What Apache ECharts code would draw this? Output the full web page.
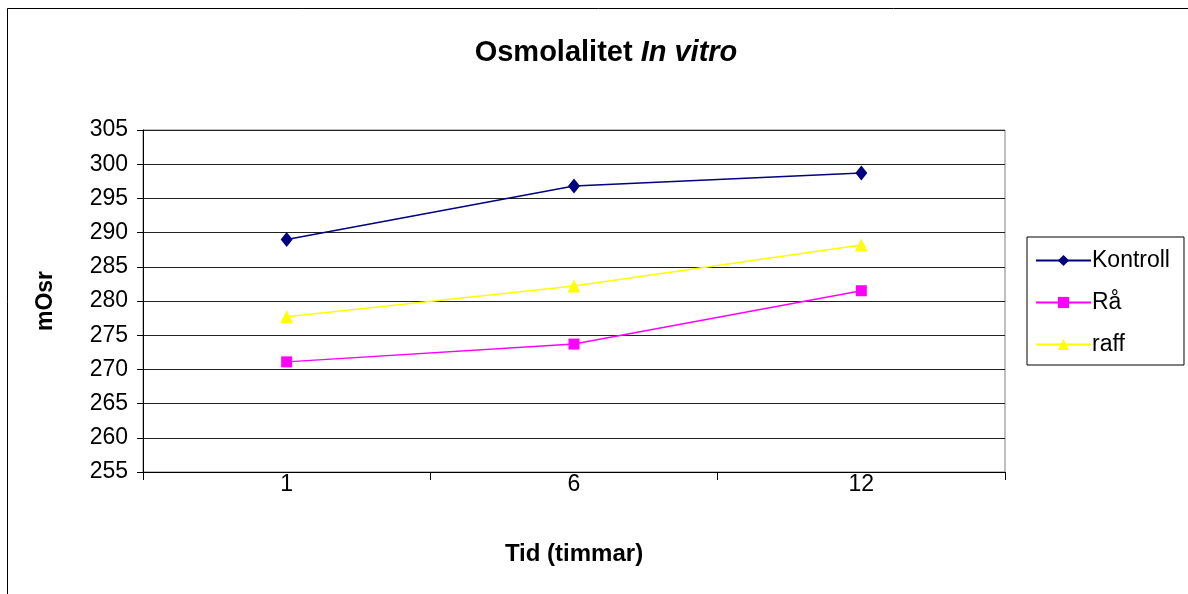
<!DOCTYPE html>
<html><head><meta charset="utf-8">
<script src="https://cdn.jsdelivr.net/npm/echarts@6/dist/echarts.min.js"></script>
<style>html,body{margin:0;padding:0;background:#fff}#c{width:1188px;height:594px}</style>
</head><body><div id="c"></div>
<script>
var categories = ['1', '6', '12'];
var kontroll = [289, 296.8, 298.7];
var ra = [271.1, 273.7, 281.5];
var raff = [277.7, 282.2, 288.2];
var seriesNames = ['Kontroll', 'Rå', 'raff'];

var chart = echarts.init(document.getElementById('c'));
var font = '"Liberation Sans", Arial, sans-serif';
chart.setOption({
  animation: false,
  backgroundColor: '#fff',
  textStyle: {fontFamily: font},
  title: {
    text: '{a|Osmolalitet }{b|In vitro}',
    left: 601, top: 33, textAlign: 'center',
    textStyle: {rich: {
      a: {fontFamily: font, fontWeight: 'bold', fontSize: 29, color: '#000'},
      b: {fontFamily: font, fontWeight: 'bold', fontStyle: 'italic', fontSize: 29, color: '#000'}
    }}
  },
  graphic: [{type: 'rect', shape: {x: 7.5, y: 8.5, width: 1220, height: 620}, style: {fill: null, stroke: '#000', lineWidth: 1}, z: 100}],
  legend: {
    orient: 'vertical', left: 1027, top: 237, width: 160,
    padding: [12, 14, 9, 8], itemGap: 19, itemWidth: 55, itemHeight: 14,
    borderColor: '#000', borderWidth: 1, backgroundColor: '#fff',
    textStyle: {fontFamily: font, fontSize: 23, color: '#000', padding: [0,0,0,-4]},
    data: seriesNames
  },
  grid: {left: 143, right: 183, top: 130, bottom: 122, show: true, borderColor: '#808080', borderWidth: 1},
  xAxis: {
    type: 'category', data: categories, boundaryGap: true,
    name: 'Tid (timmar)', nameLocation: 'middle', nameGap: 70,
    nameTextStyle: {fontFamily: font, fontWeight: 'bold', fontSize: 24, color: '#000'},
    axisLine: {lineStyle: {color: '#000', width: 1}},
    axisTick: {show: true, length: 8, lineStyle: {color: '#000'}},
    axisLabel: {fontFamily: font, fontSize: 23, color: '#000', margin: 1}
  },
  yAxis: {
    type: 'value', min: 255, max: 305, interval: 5,
    name: 'mOsr', nameLocation: 'middle', nameGap: 86, nameRotate: 90,
    nameTextStyle: {fontFamily: font, fontWeight: 'bold', fontSize: 23, color: '#000'},
    axisLine: {show: true, lineStyle: {color: '#000', width: 1}},
    axisTick: {show: true, length: 6, lineStyle: {color: '#000'}},
    axisLabel: {fontFamily: font, fontSize: 23, color: '#000', margin: 15},
    splitLine: {show: true, lineStyle: {color: '#222', width: 1}}
  },
  series: [
    {name: 'Kontroll', type: 'line', data: kontroll, symbol: 'diamond', symbolSize: [12, 15],
     itemStyle: {color: '#000080'}, lineStyle: {color: '#000080', width: 1.5}},
    {name: 'Rå', type: 'line', data: ra, symbol: 'rect', symbolSize: 11,
     itemStyle: {color: '#ff00ff'}, lineStyle: {color: '#ff00ff', width: 1.5}},
    {name: 'raff', type: 'line', data: raff, symbol: 'triangle', symbolSize: [13, 13],
     itemStyle: {color: '#ffff00'}, lineStyle: {color: '#ffff00', width: 1.5}}
  ]
});
</script></body></html>
